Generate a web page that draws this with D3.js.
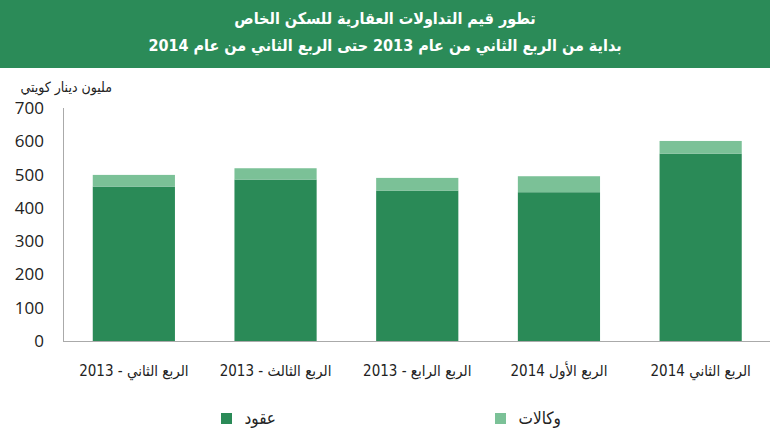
<!DOCTYPE html>
<html>
<head>
<meta charset="utf-8">
<script src="https://cdn.jsdelivr.net/npm/d3@7"></script>
<style>
body{margin:0;background:#fff;}
svg{display:block;font-family:"DejaVu Sans Condensed","DejaVu Sans",sans-serif;}
</style>
</head>
<body>
<div id="chart"></div>
<script>
const categories = ["الربع الثاني - 2013","الربع الثالث - 2013","الربع الرابع - 2013","الربع الأول 2014","الربع الثاني 2014"];
const contracts = [464, 485, 452, 447, 563];
const agencies = [35, 34, 38, 48, 38];
const yTicks = [0,100,200,300,400,500,600,700];
const seriesNames = ["عقود","وكالات"];

const width = 770, height = 443;
const darkGreen = "#2a8a57", lightGreen = "#7bc197";

const svg = d3.select("#chart").append("svg")
.attr("width",width)
.attr("height",height);

// header band
svg.append("rect")
.attr("x",0).attr("y",0)
.attr("width",width).attr("height",68)
.attr("fill","#2b8b58");

svg.append("text")
.attr("x",385).attr("y",24)
.attr("text-anchor","middle")
.attr("direction","rtl")
.attr("fill","#fff")
.attr("font-size","16px")
.attr("font-weight","bold")
.text("تطور قيم التداولات العقارية  للسكن الخاص");

svg.append("text")
.attr("x",385).attr("y",51)
.attr("text-anchor","middle")
.attr("direction","rtl")
.attr("fill","#fff")
.attr("font-size","16px")
.attr("font-weight","bold")
.text("بداية من الربع الثاني من عام 2013 حتى الربع الثاني من عام 2014");

const x = d3.scaleBand()
.domain(categories)
.range([63,771.5])
.paddingInner(0.42)
.paddingOuter(0.21);

const y = d3.scaleLinear()
.domain([0,700])
.range([341,108]);

// y tick labels
svg.selectAll("text.ytick")
.data(yTicks)
.enter()
.append("text")
.attr("class","ytick")
.attr("x",44)
.attr("y",d=>y(d)+6)
.attr("text-anchor","end")
.attr("font-family","'Open Sans',sans-serif")
.attr("font-size","17px")
.attr("fill","#222")
.text(d=>d);

svg.append("text")
.attr("x",112).attr("y",92)
.attr("text-anchor","start")
.attr("direction","rtl")
.attr("font-size","14px")
.attr("fill","#222")
.text("مليون دينار كويتي");

// stacked bars
const rows = categories.map((c,i)=>({cat:c, contracts:contracts[i], agencies:agencies[i]}));

svg.selectAll("rect.dark")
.data(rows)
.enter()
.append("rect")
.attr("class","dark")
.attr("x",d=>x(d.cat))
.attr("width",x.bandwidth())
.attr("y",d=>y(d.contracts))
.attr("height",d=>y(0)-y(d.contracts))
.attr("fill",darkGreen);

svg.selectAll("rect.light")
.data(rows)
.enter()
.append("rect")
.attr("class","light")
.attr("x",d=>x(d.cat))
.attr("width",x.bandwidth())
.attr("y",d=>y(d.contracts+d.agencies))
.attr("height",d=>y(d.contracts)-y(d.contracts+d.agencies))
.attr("fill",lightGreen);

// axis lines
svg.append("line")
.attr("x1",63.5).attr("x2",63.5)
.attr("y1",108).attr("y2",y(0))
.attr("stroke","#aaa");

svg.append("line")
.attr("x1",63).attr("x2",width)
.attr("y1",y(0)+0.5).attr("y2",y(0)+0.5)
.attr("stroke","#aaa");

// category labels
svg.selectAll("text.xlab")
.data(categories)
.enter()
.append("text")
.attr("class","xlab")
.attr("x",d=>x(d)+x.bandwidth()/2)
.attr("y",376)
.attr("text-anchor","middle")
.attr("direction","rtl")
.attr("font-size","15px")
.attr("fill","#222")
.text(d=>d);

// legend
const legend = [
{name:seriesNames[0], color:darkGreen, sq:221, tx:276},
{name:seriesNames[1], color:lightGreen, sq:495, tx:561}
];

svg.selectAll("rect.leg")
.data(legend)
.enter()
.append("rect")
.attr("class","leg")
.attr("x",d=>d.sq)
.attr("y",413)
.attr("width",11)
.attr("height",11)
.attr("fill",d=>d.color);

svg.selectAll("text.leg")
.data(legend)
.enter()
.append("text")
.attr("class","leg")
.attr("x",d=>d.tx)
.attr("y",424)
.attr("text-anchor","start")
.attr("direction","rtl")
.attr("font-size","17px")
.attr("fill","#222")
.text(d=>d.name);
</script>
</body>
</html>
